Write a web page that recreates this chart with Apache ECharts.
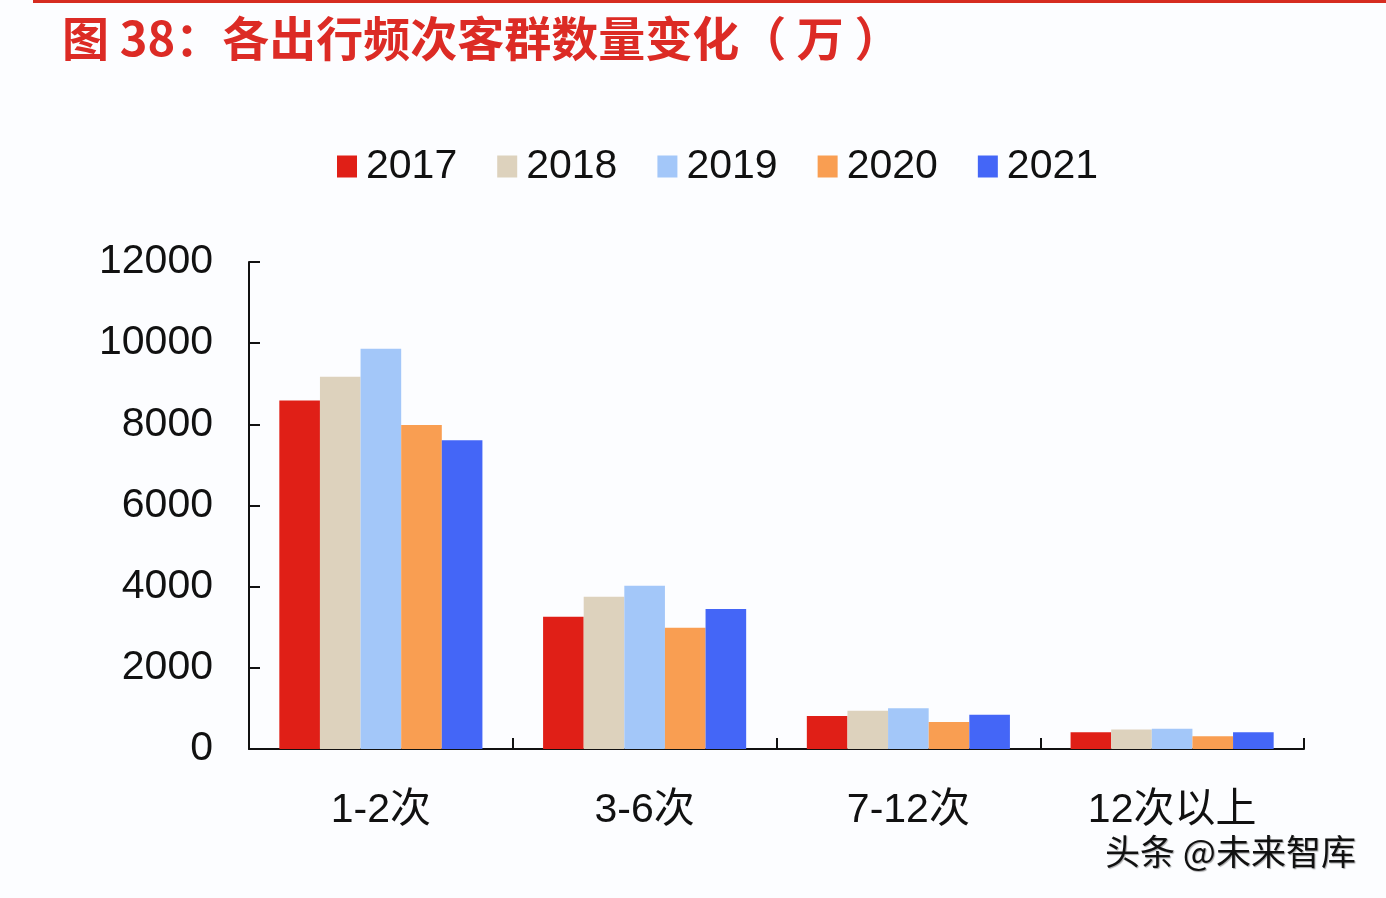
<!DOCTYPE html>
<html>
<head>
<meta charset="utf-8">
<script src="https://cdn.jsdelivr.net/npm/echarts@6/dist/echarts.min.js"></script>
<style>
html,body{margin:0;padding:0;background:#fcfdff;}
#main{width:1386px;height:898px;}
</style>
</head>
<body>
<div id="main"></div>
<script>
const categories = ['1-2次', '3-6次', '7-12次', '12次以上'];
const years = ['2017', '2018', '2019', '2020', '2021'];
const v2017 = [8590, 3260, 813, 411];
const v2018 = [9175, 3750, 944, 480];
const v2019 = [9865, 4020, 1002, 500];
const v2020 = [7985, 2990, 665, 315];
const v2021 = [7605, 3450, 846, 411];
const yTicks = [0, 2000, 4000, 6000, 8000, 10000, 12000];

const seriesValues = [v2017, v2018, v2019, v2020, v2021];
const colors = ['#e01f17', '#ddd2bd', '#a3c7f9', '#f99e52', '#4466f7'];
const latin = '"Liberation Sans", Arial, "Noto Sans CJK SC", sans-serif';

const chart = echarts.init(document.getElementById('main'), null, {renderer: 'canvas'});
chart.setOption({
  backgroundColor: '#fcfdff',
  animation: false,
  color: colors,
  graphic: [
    {type: 'rect', shape: {x: 33, y: 0, width: 1353, height: 3}, style: {fill: '#d62c20'}},
    {type: 'text', left: 62, top: 15, style: {text: '图 38：各出行频次客群数量变化（ 万 ）', fill: '#dc2b25', font: 'bold 47px "Noto Sans CJK SC", sans-serif'}},
    {type: 'text', left: 1105, top: 834, style: {text: '头条 @未来智库', fill: '#111', font: '35px "Noto Sans CJK SC", sans-serif', textShadowColor: 'rgba(0,0,0,0.35)', textShadowOffsetX: 1, textShadowOffsetY: 1, textShadowBlur: 1}}
  ],
  legend: {
    left: 332,
    top: 141,
    itemWidth: 20,
    itemHeight: 22,
    itemGap: 40,
    icon: 'rect',
    textStyle: {fontSize: 41, color: '#111', fontFamily: latin, padding: [0, 0, 0, 4]},
    data: years
  },
  grid: {left: 249, right: 82, top: 262, bottom: 149, containLabel: false},
  xAxis: {
    type: 'category',
    data: categories,
    axisLine: {lineStyle: {color: '#111', width: 2}},
    axisTick: {show: true, inside: true, length: 11, lineStyle: {color: '#111', width: 2}},
    axisLabel: {fontSize: 41, color: '#111', fontFamily: latin, margin: 41}
  },
  yAxis: {
    type: 'value',
    min: 0,
    max: 12000,
    interval: 2000,
    axisLine: {show: true, lineStyle: {color: '#111', width: 2}},
    axisTick: {show: true, inside: true, length: 11, lineStyle: {color: '#111', width: 2}},
    axisLabel: {fontSize: 41, color: '#111', fontFamily: latin, margin: 36,
      formatter: function (v) { return yTicks.indexOf(v) >= 0 ? String(v) : ''; }},
    splitLine: {show: false}
  },
  series: years.map(function (y, i) {
    return {
      name: y,
      type: 'bar',
      data: seriesValues[i],
      barGap: '0%',
      barCategoryGap: '23%',
      itemStyle: {color: colors[i]}
    };
  })
});
</script>
</body>
</html>
